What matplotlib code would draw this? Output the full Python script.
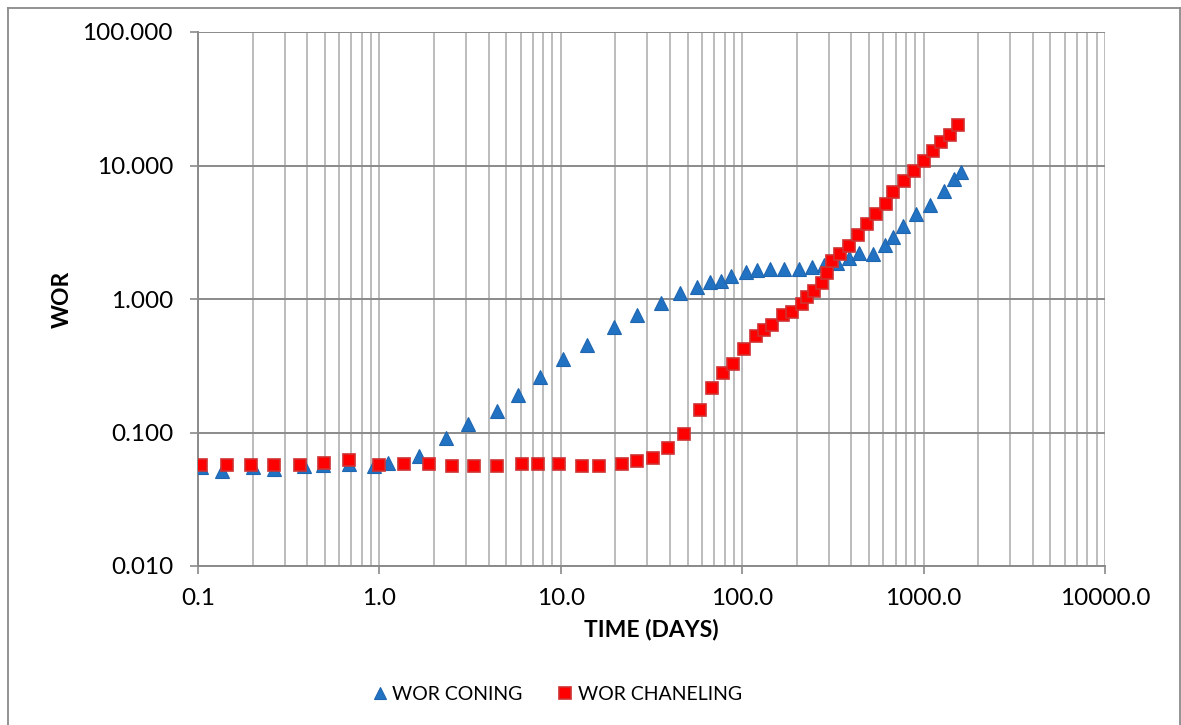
#!/usr/bin/env python3
"""
WOR vs time, coning and channeling diagnostic on log-log axes
"""

import numpy as np
import matplotlib
matplotlib.use('Agg')
import matplotlib.pyplot as plt
from matplotlib.ticker import FixedLocator, LogLocator, NullFormatter, FixedFormatter
from matplotlib.lines import Line2D

# WOR coning (days, WOR)
coning_days = [0.104, 0.136, 0.202, 0.263, 0.386, 0.491, 0.680, 0.937, 1.11, 1.65,
               2.32, 3.07, 4.43, 5.81, 7.68, 10.3, 13.9, 19.6, 26.2, 35.7,
               45.2, 56.1, 66.2, 76.1, 86.7, 104.5, 120.8, 142.3, 170.6, 206.5,
               241.5, 282.5, 334, 388, 442, 524, 613, 681, 773, 904,
               1084, 1295, 1471, 1607]
coning_wor = [0.0552, 0.0515, 0.0552, 0.0533, 0.0561, 0.0570, 0.0580, 0.0561, 0.0594, 0.067,
              0.0906, 0.115, 0.146, 0.191, 0.262, 0.353, 0.452, 0.617, 0.759, 0.933,
              1.11, 1.24, 1.33, 1.37, 1.49, 1.60, 1.64, 1.68, 1.68, 1.68,
              1.75, 1.80, 1.87, 2.02, 2.20, 2.17, 2.54, 2.90, 3.54, 4.33,
              5.09, 6.44, 7.96, 8.99]

# WOR channeling (days, WOR)
chaneling_days = [0.104, 0.144, 0.196, 0.263, 0.365, 0.495, 0.680, 0.99, 1.36, 1.87,
                  2.51, 3.34, 4.47, 6.14, 7.46, 9.78, 13.1, 16.3, 21.8, 26.2,
                  32.2, 39.2, 47.6, 58.3, 68.2, 78.7, 88.7, 102.3, 118.7, 131.4,
                  146.6, 167.2, 188.8, 212.3, 228, 248, 274, 293, 313, 344,
                  386, 437, 490, 547, 618, 676, 780, 885, 1002, 1122,
                  1253, 1393, 1553]
chaneling_wor = [0.0566, 0.0568, 0.0568, 0.0568, 0.0568, 0.0588, 0.0619, 0.0574, 0.0576, 0.0576,
                 0.0558, 0.0558, 0.0558, 0.0578, 0.0578, 0.0578, 0.0560, 0.0560, 0.0582, 0.0613,
                 0.0644, 0.0762, 0.0975, 0.1475, 0.217, 0.279, 0.326, 0.422, 0.528, 0.586,
                 0.635, 0.762, 0.80, 0.91, 1.03, 1.14, 1.31, 1.56, 1.92, 2.18,
                 2.50, 3.03, 3.65, 4.33, 5.17, 6.36, 7.65, 9.10, 10.9, 12.8,
                 14.9, 17.0, 20.2]

x_ticks = [0.1, 1, 10, 100, 1000, 10000]
x_labels = ['0.1', '1.0', '10.0', '100.0', '1000.0', '10000.0']
y_ticks = [0.01, 0.1, 1, 10, 100]
y_labels = ['0.010', '0.100', '1.000', '10.000', '100.000']

plt.rcParams['font.family'] = ['Lato', 'DejaVu Sans']

W, H = 1181, 725
fig = plt.figure(figsize=(W / 100, H / 100), dpi=100)
ax = fig.add_axes([198 / W, 1 - 566 / H, (1105 - 198) / W, (566 - 32) / H])

ax.set_xscale('log')
ax.set_yscale('log')
ax.set_xlim(0.1, 10000)
ax.set_ylim(0.01, 100)

ax.plot(coning_days, coning_wor, linestyle='none', marker='^', markersize=9.5,
        color='#2272c3', markeredgecolor='#1f66b0', markeredgewidth=0.8, zorder=3)
ax.plot(chaneling_days, chaneling_wor, linestyle='none', marker='s', markersize=8.5,
        color='#ff0000', markeredgecolor='#d03030', markeredgewidth=1.2, zorder=4)

# grid: vertical lines on every minor decade step, horizontal only on decades
ax.xaxis.set_major_locator(FixedLocator(x_ticks))
ax.xaxis.set_major_formatter(FixedFormatter(x_labels))
ax.xaxis.set_minor_locator(LogLocator(base=10, subs=np.arange(2, 10), numticks=20))
ax.xaxis.set_minor_formatter(NullFormatter())
ax.yaxis.set_major_locator(FixedLocator(y_ticks))
ax.yaxis.set_major_formatter(FixedFormatter(y_labels))
ax.yaxis.set_minor_locator(FixedLocator([]))

ax.grid(True, axis='x', which='both', color='#bcbcbc', linewidth=1.4)
ax.grid(True, axis='y', which='major', color='#8a8a8a', linewidth=1.4)
ax.set_axisbelow(True)

ax.tick_params(axis='both', which='major', length=6, width=1.2, color='#8a8a8a',
               labelsize=17.5, labelcolor='black', direction='out')
ax.tick_params(axis='x', which='major', pad=10)
ax.tick_params(axis='y', which='major', pad=12)
ax.tick_params(axis='x', which='minor', length=0)

for side in ['top', 'right']:
    ax.spines[side].set_visible(False)
for side in ['left', 'bottom']:
    ax.spines[side].set_color('#8a8a8a')
    ax.spines[side].set_linewidth(1.4)

ax.set_xlabel('TIME (DAYS)', fontsize=16.5, fontweight='bold', labelpad=7)
ax.set_ylabel('WOR', fontsize=16.5, fontweight='bold', labelpad=7)

handles = [
    Line2D([], [], linestyle='none', marker='^', markersize=9, color='#2272c3',
           markeredgecolor='#1f66b0', markeredgewidth=0.8),
    Line2D([], [], linestyle='none', marker='s', markersize=8, color='#ff0000',
           markeredgecolor='#d03030', markeredgewidth=1.2),
]
fig.legend(handles, ['WOR CONING', 'WOR CHANELING'], loc='center',
           bbox_to_anchor=(556 / W, 1 - 694 / H), ncol=2, frameon=False,
           fontsize=14, handletextpad=0.15, columnspacing=1.7, handlelength=1.0)

# chart area border
border = dict(color='#8a8a8a', linewidth=1.3, transform=fig.transFigure, clip_on=False)
fig.add_artist(Line2D([8 / W, 8 / W], [0, 1 - 8 / H], **border))
fig.add_artist(Line2D([8 / W, 1180 / W], [1 - 8 / H, 1 - 8 / H], **border))
fig.add_artist(Line2D([1180 / W, 1180 / W], [0, 1 - 8 / H], **border))

fig.savefig('out.png', dpi=100)
